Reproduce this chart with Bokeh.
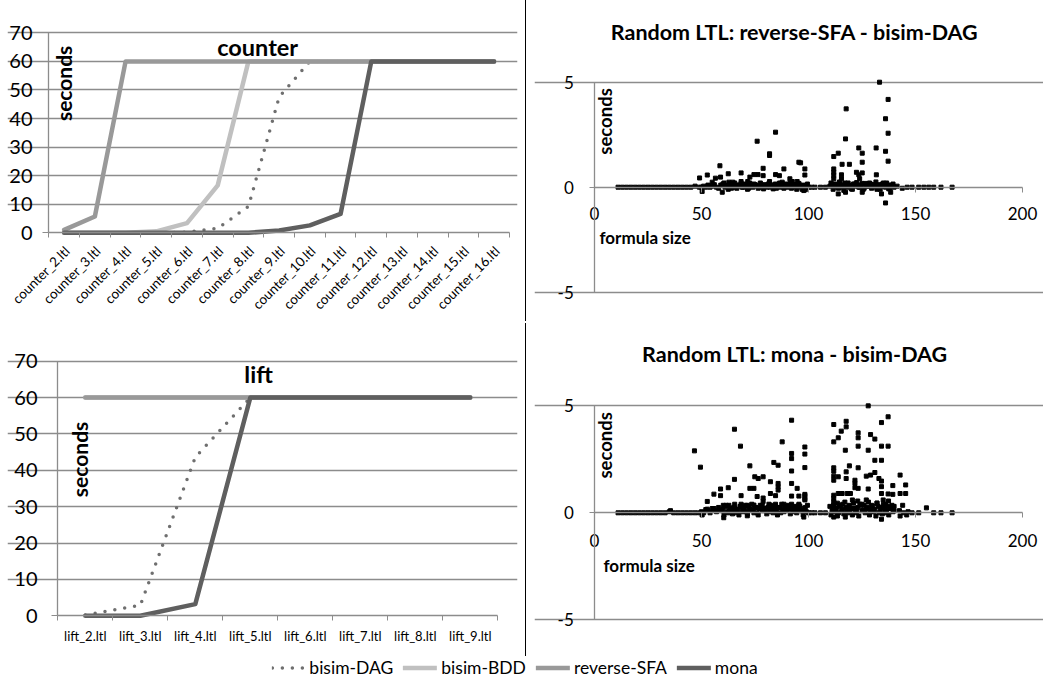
import math
from bokeh.plotting import figure
from bokeh.models import (FixedTicker, Label, Legend, LegendItem, Div, Range1d,
                          CustomLabelingPolicy)
from bokeh.layouts import column, row
from bokeh.embed import file_html
from bokeh.resources import INLINE
from bokeh.core.properties import value

FONT = "Lato"
GRID = "#8c8c8c"
C_DAG = "#6f6f6f"
C_BDD = "#c0c0c0"
C_RSFA = "#999999"
C_MONA = "#5f5f5f"

# ---------------- line chart data ----------------
counter_labels = ["counter_2.ltl", "counter_3.ltl", "counter_4.ltl", "counter_5.ltl", "counter_6.ltl",
                  "counter_7.ltl", "counter_8.ltl", "counter_9.ltl", "counter_10.ltl", "counter_11.ltl",
                  "counter_12.ltl", "counter_13.ltl", "counter_14.ltl", "counter_15.ltl", "counter_16.ltl"]
counter_dag = [0, 0, 0, 0, 0.2, 1.6, 9.2, 47.5, 60, 60, 60, 60, 60, 60, 60]
counter_bdd = [0, 0, 0, 0.5, 3.4, 16.6, 60, 60, 60, 60, 60, 60, 60, 60, 60]
counter_rsfa = [1, 5.7, 60, 60, 60, 60, 60, 60, 60, 60, 60, 60, 60, 60, 60]
counter_mona = [0, 0, 0, 0, 0, 0, 0, 0.8, 2.6, 6.6, 60, 60, 60, 60, 60]

lift_labels = ["lift_2.ltl", "lift_3.ltl", "lift_4.ltl", "lift_5.ltl",
               "lift_6.ltl", "lift_7.ltl", "lift_8.ltl", "lift_9.ltl"]
lift_dag = [0.2, 2.9, 43.6, 60, 60, 60, 60, 60]
lift_bdd = [60, 60, 60, 60, 60, 60, 60, 60]
lift_rsfa = [60, 60, 60, 60, 60, 60, 60, 60]
lift_mona = [0, 0, 3.2, 60, 60, 60, 60, 60]

y_ticks_line = [0, 10, 20, 30, 40, 50, 60, 70]
series_names = ["bisim-DAG", "bisim-BDD", "reverse-SFA", "mona"]

# ---------------- scatter data: reverse-SFA - bisim-DAG ----------------
a_low_x = [11, 13, 15, 17, 19, 21, 23, 25, 27, 29, 31, 33, 35, 37, 39, 41, 43, 45, 47, 49]
a_low_y = [0, 0, 0, 0, 0, 0, 0, 0, 0, 0, 0, 0, 0, 0, 0, 0, 0, 0, 0.05, 0]
a_band1_x = [50, 51, 52, 53, 54, 55, 56, 57, 58, 59, 60, 61, 62, 63, 64, 65, 66, 67, 68, 69,
             70, 71, 72, 73, 74, 75, 76, 77, 78, 79, 80, 81, 82, 83, 84, 85, 86, 87, 88, 89,
             90, 91, 92, 93, 94, 95, 96, 97, 98, 99, 100]
a_band1_y = [0, 0.05, 0, 0.1, 0, 0.05, 0.12, 0, -0.05, 0.1,
             0.15, 0, 0.05, 0.1, -0.05, 0.12, 0, 0.1, 0.05, 0,
             0.15, 0.05, -0.05, 0.1, 0, 0.12, 0.05, 0, 0.1, -0.08,
             0.05, 0.12, 0, 0.1, 0.05, -0.05, 0.1, 0, 0.15, 0.05,
             0, 0.1, -0.05, 0.05, 0.12, 0, 0.1, -0.1, 0.05, 0, 0]
a_band2_x = [60.5, 61.5, 62.5, 63.5, 64.5, 65.5, 66.5, 67.5, 68.5, 69.5,
             70.5, 71.5, 72.5, 73.5, 74.5, 75.5, 76.5, 77.5, 78.5, 79.5,
             80.5, 81.5, 82.5, 83.5, 84.5, 85.5, 86.5, 87.5, 88.5, 89.5,
             90.5, 91.5, 92.5, 93.5, 94.5, 95.5, 96.5, 97.5, 98.5, 99.5]
a_band2_y = [0.2, 0.1, -0.1, 0.15, 0.05, 0.2, -0.05, 0.1, 0.18, 0,
             0.12, -0.1, 0.2, 0.05, 0.15, 0.1, -0.05, 0.2, 0.08, 0.12,
             0, 0.18, 0.1, -0.08, 0.15, 0.05, 0.2, 0.1, -0.05, 0.15,
             0.08, 0.2, 0, 0.12, -0.1, 0.18, 0.05, 0.1, -0.12, 0.15]
a_gap_x = [101.5, 103, 105.6, 107.9]
a_gap_y = [0, 0, 0, 0]
a_band3_x = [110, 111, 112, 113, 114, 115, 116, 117, 118, 119, 120, 121, 122, 123, 124, 125,
             126, 127, 128, 129, 130, 131, 132, 133, 134, 135, 136, 137, 138, 139, 140]
a_band3_y = [0.05, 0.15, 0, 0.1, -0.05, 0.12, 0.05, 0.2, 0, 0.1,
             -0.08, 0.15, 0.05, 0.1, 0, 0.18, -0.05, 0.1, 0.05, 0.15,
             0, 0.1, -0.1, 0.12, 0.05, 0.2, 0, 0.1, -0.05, 0.08, 0]
a_band4_x = [110.5, 111.5, 112.5, 113.5, 114.5, 115.5, 116.5, 117.5, 118.5, 119.5,
             120.5, 121.5, 122.5, 123.5, 124.5, 125.5, 126.5, 127.5, 128.5, 129.5,
             130.5, 131.5, 132.5, 133.5, 134.5, 135.5, 136.5, 137.5, 138.5, 139.5]
a_band4_y = [0.2, -0.1, 0.15, 0.05, 0.25, 0, -0.15, 0.1, 0.2, 0.05,
             -0.1, 0.15, 0.22, 0, 0.1, -0.12, 0.18, 0.05, 0.2, -0.05,
             0.12, 0.25, 0, -0.1, 0.15, 0.05, 0.2, -0.08, 0.1, 0.15]
a_tail_x = [141.4, 143.8, 146.1, 148.4, 151.5, 153.9, 156.2, 158.5, 161.9, 167.1]
a_tail_y = [0.05, -0.05, 0, 0, 0, 0, 0, 0, 0, 0]
a_out_x = [76.0, 84.6, 81.8, 81.8, 58.6, 95.5, 98.3, 98.3, 88.5, 78.8,
           68.5, 62.5, 52.7, 49.1, 74.5, 76.4, 78.8, 84.6, 86.4, 56.5,
           58.9, 72.6, 71.6, 64.6, 68.5, 62.8, 81.8, 91.3, 92.4, 94.7,
           87.7, 55.0, 59.7, 50.3, 97.8, 96.3,
           133.2, 137.2, 117.6, 136.0, 137.2, 117.3, 123.5, 131.6, 125.1, 136.0,
           113.9, 111.8, 137.2, 115.7, 119.1, 125.1, 111.8, 111.8, 111.8, 111.8,
           115.4, 115.4, 122.4, 123.5, 125.1, 123.9, 131.7, 113.9, 134.1, 136.0,
           125.1, 138.4, 117.3]
a_out_y = [2.19, 2.62, 1.59, 1.51, 1.02, 1.19, 0.87, 0.58, 0.87, 0.90,
           0.68, 0.64, 0.58, 0.44, 0.6, 0.6, 0.55, 0.6, 0.55, 0.43,
           0.48, 0.48, 0.27, 0.24, 0.27, 0.24, 0.27, 0.4, 0.27, 0.27,
           0.24, 0.24, -0.24, -0.2, -0.16, 1.16,
           5.0, 4.18, 3.73, 3.26, 2.57, 2.30, 1.87, 1.87, 1.62, 1.71,
           1.62, 1.46, 1.24, 1.09, 1.09, 1.19, 0.87, 0.71, 0.56, 0.40,
           0.59, 0.40, 0.71, 0.59, 0.68, 0.40, 0.59, -0.32, -0.32, -0.75,
           -0.24, -0.24, -0.24]

# ---------------- scatter data: mona - bisim-DAG ----------------
b_low_x = [11, 13, 15, 17, 19, 21, 23, 25, 27, 29, 31, 33, 35, 37, 39, 41, 43, 45, 47, 49]
b_low_y = [0, 0, 0, 0, 0, 0, 0, 0, 0, 0, 0, 0, 0.05, 0, 0, 0, 0, 0, 0, 0]
b_band1_x = [50, 51, 52, 53, 54, 55, 56, 57, 58, 59, 60, 61, 62, 63, 64, 65, 66, 67, 68, 69,
             70, 71, 72, 73, 74, 75, 76, 77, 78, 79, 80, 81, 82, 83, 84, 85, 86, 87, 88, 89,
             90, 91, 92, 93, 94, 95, 96, 97, 98, 99, 100]
b_band1_y = [0.05, 0, 0.15, 0.1, 0, 0.2, 0.1, 0.05, 0.25, 0.1,
             0.15, 0.3, 0.05, 0.2, 0.1, 0.25, 0, 0.15, 0.3, 0.1,
             0.2, 0.05, 0.3, 0.15, 0.1, 0.25, 0, 0.2, 0.3, 0.1,
             0.15, 0.25, 0.05, 0.3, 0.2, 0.1, 0.25, 0, 0.15, 0.3,
             0.1, 0.2, 0.3, 0.05, 0.25, 0.15, 0.3, 0.1, 0.2, 0.05, 0]
b_band2_x = [60.5, 61.5, 62.5, 63.5, 64.5, 65.5, 66.5, 67.5, 68.5, 69.5,
             70.5, 71.5, 72.5, 73.5, 74.5, 75.5, 76.5, 77.5, 78.5, 79.5,
             80.5, 81.5, 82.5, 83.5, 84.5, 85.5, 86.5, 87.5, 88.5, 89.5,
             90.5, 91.5, 92.5, 93.5, 94.5, 95.5, 96.5, 97.5, 98.5, 99.5]
b_band2_y = [-0.1, 0.35, 0, 0.2, -0.05, 0.4, 0.1, -0.1, 0.3, 0.05,
             0.35, -0.05, 0.15, 0.4, 0, 0.25, -0.1, 0.35, 0.1, 0.2,
             -0.05, 0.4, 0.15, 0, 0.3, -0.1, 0.25, 0.4, 0.05, 0.2,
             0.35, -0.05, 0.15, 0.3, 0, 0.4, 0.1, -0.1, 0.25, 0.35]
b_gap_x = [101.5, 103, 105.6, 107.9]
b_gap_y = [0, 0, 0, 0]
b_band3_x = [110, 111, 112, 113, 114, 115, 116, 117, 118, 119, 120, 121, 122, 123, 124, 125,
             126, 127, 128, 129, 130, 131, 132, 133, 134, 135, 136, 137, 138, 139, 140]
b_band3_y = [0.3, 0.1, 0.45, 0.2, 0, 0.35, 0.15, 0.5, 0.05, 0.3,
             0.2, 0.45, 0, 0.25, 0.4, 0.1, 0.35, 0.2, 0.5, 0.05,
             0.3, 0.15, 0.45, 0, 0.25, 0.4, 0.1, 0.3, 0.2, 0.35, 0.1]
b_band4_x = [110.5, 111.5, 112.5, 113.5, 114.5, 115.5, 116.5, 117.5, 118.5, 119.5,
             120.5, 121.5, 122.5, 123.5, 124.5, 125.5, 126.5, 127.5, 128.5, 129.5,
             130.5, 131.5, 132.5, 133.5, 134.5, 135.5, 136.5, 137.5, 138.5, 139.5]
b_band4_y = [-0.1, 0.2, 0.05, -0.15, 0.3, 0.1, -0.05, 0.25, 0, 0.15,
             -0.1, 0.2, 0.05, -0.15, 0.35, 0.1, 0, 0.25, -0.1, 0.15,
             0.05, -0.15, 0.3, 0.1, -0.05, 0.2, 0, -0.1, 0.25, 0.05]
b_tail_x = [142.5, 144.5, 146.5, 148.4, 151.5, 158.5, 161.9, 167.1]
b_tail_y = [0.1, 0, 0.05, 0, 0, 0, 0, 0]
b_out_x = [46.7, 49.5, 65.4, 68.2, 92.1, 87.7, 92.1, 92.1, 98.3, 98.3,
           92.1, 83.8, 85.8, 72.6, 74.9, 76.5, 78.8, 65.4, 82.2, 85.8,
           85.8, 85.8, 62.5, 58.9, 58.9, 55.8, 72.6, 74.5, 68.5, 76.0,
           78.8, 78.8, 82.2, 84.6, 94.7, 92.1, 92.1, 95.5, 98.3, 98.3,
           52.7, 60.2, 62.8, 68.5, 71.4, 74.5, 78.4, 82.2, 84.6, 88.5,
           92.1, 95.5, 55.8, 52.7, 65.7, 35.5, 60.4, 71.4, 97.8, 50.3, 98.3,
           127.9, 137.2, 134.1, 117.6, 117.6, 111.8, 115.3, 113.9, 111.8, 123.2,
           123.2, 129.0, 131.0, 123.2, 117.2, 127.9, 134.1, 137.2, 131.0, 134.1,
           111.8, 111.8, 111.8, 111.8, 113.9, 117.6, 119.1, 123.2, 117.6, 121.7,
           121.7, 121.7, 127.0, 129.0, 131.0, 132.9, 134.1, 134.1, 142.8, 139.4,
           145.4, 123.2, 127.9, 134.1, 137.2, 139.4, 142.8, 145.4, 111.8, 111.8,
           111.8, 111.8, 113.9, 115.7, 118.1, 119.6, 155.1, 120.5, 123.0, 127.0,
           134.9, 137.4, 113.5, 116.0, 119.0, 125.0, 129.5, 132.0, 136.0, 140.0,
           144.0, 134.1, 111.8, 117.2, 142.8, 145.9, 98.3, 98.3, 96.3]
b_out_y = [2.89, 2.13, 3.90, 3.11, 4.32, 3.31, 2.77, 2.53, 3.07, 2.11,
           1.95, 2.35, 2.22, 2.19, 1.68, 1.6, 1.68, 1.56, 1.45, 1.37,
           1.22, 1.06, 1.17, 1.11, 0.8, 0.87, 1.14, 1.14, 0.8, 0.76,
           0.69, 0.53, 0.9, 0.8, 1.14, 1.37, 0.78, 0.78, 0.86, 0.66,
           0.53, 0.35, 0.35, 0.4, 0.35, 0.36, 0.35, 0.36, 0.4, 0.4,
           0.4, 0.36, 0.2, 0.17, 0.2, 0.1, -0.23, -0.14, -0.2, -0.1, 2.74,
           4.99, 4.48, 4.21, 4.27, 4.01, 4.12, 3.81, 3.50, 3.31, 3.73,
           3.50, 3.65, 3.44, 3.11, 2.92, 2.92, 3.11, 3.11, 2.45, 2.45,
           2.10, 1.94, 1.71, 1.52, 1.68, 1.91, 2.19, 2.10, 1.60, 1.52,
           1.37, 1.17, 1.71, 1.76, 1.88, 1.60, 1.48, 1.22, 1.76, 1.27,
           1.30, 1.14, 1.11, 0.9, 0.88, 0.86, 0.9, 0.9, 0.82, 0.67,
           0.51, 0.36, 0.9, 0.9, 0.9, 0.9, 0.23, 0.6, 0.55, 0.6,
           0.6, 0.55, 0.45, 0.4, 0.35, 0.4, 0.35, 0.45, 0.4, 0.3,
           0.35, -0.30, -0.2, -0.2, -0.15, -0.1, 0.8, 0.6, 0.1]

x_ticks_sc = [0, 50, 100, 150, 200]
y_ticks_sc = [-5, 0, 5]

# layout borders (pixels); frames share borders across rows/columns
L_LEFT, R_LEFT = 7, 8
L_RIGHT, R_RIGHT = 8, 0
T_ROW, B_ROW = 6, 8
W_LEFT, W_RIGHT = 525, 517
H_TOP, H_BOT = 323, 333


def no_labels():
    return CustomLabelingPolicy(code="return []")


def style_common(p):
    p.outline_line_color = None
    p.background_fill_color = "white"
    p.border_fill_color = "white"


def style_axis(ax, tick_out, major=True):
    ax.axis_line_color = GRID
    ax.axis_line_width = 1.3
    ax.major_tick_line_color = GRID
    ax.major_tick_out = tick_out if major else 0
    ax.major_tick_in = 0
    ax.minor_tick_in = 0
    ax.minor_tick_out = 0 if major else tick_out
    ax.minor_tick_line_color = GRID
    ax.major_label_standoff = 0
    ax.major_label_text_font_size = "1px"
    ax.major_label_policy = no_labels()


def line_chart(labels, dag, bdd, rsfa, mona, h, xr, yr, title, title_pos, sec_pos,
               rotate, lab_y, lab_dx, ylab_x):
    n = len(labels)
    xs = list(range(n))
    p = figure(width=W_LEFT, height=h, output_backend="svg", toolbar_location=None,
               x_range=Range1d(*xr), y_range=Range1d(*yr),
               min_border_left=L_LEFT, min_border_right=R_LEFT,
               min_border_top=T_ROW, min_border_bottom=B_ROW)
    style_common(p)
    p.xgrid.visible = False
    p.ygrid.ticker = FixedTicker(ticks=y_ticks_line[1:])
    p.ygrid.grid_line_color = GRID
    p.ygrid.grid_line_width = 1.3
    p.ygrid.bounds = (-0.5, n - 0.5)

    ya = p.yaxis[0]
    ya.ticker = FixedTicker(ticks=y_ticks_line)
    ya.bounds = (0, 70)
    ya.fixed_location = -0.5
    style_axis(ya, 6)

    xa = p.xaxis[0]
    xa.fixed_location = 0
    xa.bounds = (-0.5, n - 0.5)
    xa.ticker = FixedTicker(ticks=xs, minor_ticks=[i - 0.5 for i in range(n + 1)])
    style_axis(xa, 5, major=False)

    p.line(xs, dag, line_color=C_DAG, line_width=3.5, line_dash="0 10", line_cap="round")
    p.line(xs, bdd, line_color=C_BDD, line_width=4.5, line_cap="round", line_join="round")
    p.line(xs, rsfa, line_color=C_RSFA, line_width=4.5, line_cap="round", line_join="round")
    p.line(xs, mona, line_color=C_MONA, line_width=4.5, line_cap="round", line_join="round")

    # y tick labels
    p.text(x=[ylab_x for _ in y_ticks_line], y=y_ticks_line, text=[str(t) for t in y_ticks_line],
           text_align="right", text_baseline="middle", text_font=value(FONT),
           text_font_size="20px", text_color="#000000")
    # category labels
    if rotate:
        p.text(x=[i + lab_dx for i in xs], y=[lab_y for _ in xs], text=labels, angle=math.pi / 4,
               text_align="right", text_baseline="middle", text_font=value(FONT),
               text_font_size="13.5px", text_color="#000000")
    else:
        p.text(x=xs, y=[lab_y for _ in xs], text=labels,
               text_align="center", text_baseline="middle", text_font=value(FONT),
               text_font_size="13px", text_color="#000000")

    p.add_layout(Label(x=title_pos[0], y=title_pos[1], text=title, text_font=FONT,
                       text_font_size="23.5px", text_font_style="bold", text_align="center",
                       text_baseline="middle", text_color="#000000"))
    p.add_layout(Label(x=sec_pos[0], y=sec_pos[1], text="seconds", text_font=FONT,
                       text_font_size="21px", text_font_style="bold", text_align="center",
                       text_baseline="middle", angle=math.pi / 2, text_color="#000000"))
    return p


def scatter_chart(xs_parts, ys_parts, title, h, yr, lab_y, title_y, sec_y, fs_pos):
    p = figure(width=W_RIGHT, height=h, output_backend="svg", toolbar_location=None,
               x_range=Range1d(-28.04, 209.81), y_range=Range1d(*yr),
               min_border_left=L_RIGHT, min_border_right=R_RIGHT,
               min_border_top=T_ROW, min_border_bottom=B_ROW)
    style_common(p)
    p.xgrid.visible = False
    p.ygrid.ticker = FixedTicker(ticks=[-5, 5])
    p.ygrid.grid_line_color = GRID
    p.ygrid.grid_line_width = 1.3
    p.ygrid.bounds = (0, 200)

    xa = p.xaxis[0]
    xa.fixed_location = 0
    xa.bounds = (0, 200)
    xa.ticker = FixedTicker(ticks=x_ticks_sc)
    style_axis(xa, 5)

    ya = p.yaxis[0]
    ya.fixed_location = 0
    ya.bounds = (-5, 5)
    ya.ticker = FixedTicker(ticks=y_ticks_sc)
    style_axis(ya, 5)

    for xs, ys in zip(xs_parts, ys_parts):
        p.scatter(xs, ys, marker="square", size=4, color="#000000")

    p.text(x=x_ticks_sc, y=[lab_y for _ in x_ticks_sc], text=[str(t) for t in x_ticks_sc],
           text_align="center", text_baseline="middle", text_font=value(FONT),
           text_font_size="17px", text_color="#000000")
    p.text(x=[-9.7 for _ in y_ticks_sc], y=y_ticks_sc, text=[str(t) for t in y_ticks_sc],
           text_align="right", text_baseline="middle", text_font=value(FONT),
           text_font_size="17px", text_color="#000000")

    p.add_layout(Label(x=93.5, y=title_y, text=title, text_font=FONT,
                       text_font_size="21.5px", text_font_style="bold", text_align="center",
                       text_baseline="middle", text_color="#000000"))
    p.add_layout(Label(x=5.1, y=sec_y, text="seconds", text_font=FONT,
                       text_font_size="18.5px", text_font_style="bold", text_align="center",
                       text_baseline="middle", angle=math.pi / 2, text_color="#000000"))
    p.add_layout(Label(x=fs_pos[0], y=fs_pos[1], text="formula size", text_font=FONT,
                       text_font_size="17px", text_font_style="bold", text_align="left",
                       text_baseline="middle", text_color="#000000"))
    return p


p_counter = line_chart(counter_labels, counter_dag, counter_bdd, counter_rsfa, counter_mona,
                       H_TOP, (-1.8447, 14.7605), (-28.95, 79.21),
                       "counter", (6.3, 64.9), (-0.02, 52.3), True, -5.6, 0.1, -1.03)
p_lift = line_chart(lift_labels, lift_dag, lift_bdd, lift_rsfa, lift_mona,
                    H_BOT, (-1.4145, 7.8582), (-8.99, 78.72),
                    "lift", (3.15, 66.6), (-0.105, 43), False, -5.42, 0, -0.869)

p_sc1 = scatter_chart([a_low_x, a_band1_x, a_band2_x, a_gap_x, a_band3_x, a_band4_x, a_tail_x, a_out_x],
                      [a_low_y, a_band1_y, a_band2_y, a_gap_y, a_band3_y, a_band4_y, a_tail_y, a_out_y],
                      "Random LTL: reverse-SFA - bisim-DAG", H_TOP, (-6.11, 8.605),
                      -1.25, 7.37, 3.13, (2.3, -2.4))
p_sc2 = scatter_chart([b_low_x, b_band1_x, b_band2_x, b_gap_x, b_band3_x, b_band4_x, b_tail_x, b_out_x],
                      [b_low_y, b_band1_y, b_band2_y, b_gap_y, b_band3_y, b_band4_y, b_tail_y, b_out_y],
                      "Random LTL: mona - bisim-DAG", H_BOT, (-6.332, 8.553),
                      -1.29, 7.43, 3.15, (4.2, -2.46))

# legend strip
pl = figure(width=1029, height=22, output_backend="svg", toolbar_location=None,
            x_range=Range1d(100, 101), y_range=Range1d(100, 101),
            x_axis_location=None, y_axis_location=None,
            min_border_left=0, min_border_right=0, min_border_top=0, min_border_bottom=0)
style_common(pl)
pl.grid.visible = False
lx = list(range(len(lift_labels)))
l1 = pl.line(lx, lift_dag, line_color=C_DAG, line_width=3.5, line_dash="0 10", line_cap="round")
l2 = pl.line(lx, lift_bdd, line_color=C_BDD, line_width=4.5, line_cap="round")
l3 = pl.line(lx, lift_rsfa, line_color=C_RSFA, line_width=4.5, line_cap="round")
l4 = pl.line(lx, lift_mona, line_color=C_MONA, line_width=4.5, line_cap="round")
legend = Legend(items=[LegendItem(label=series_names[0], renderers=[l1]),
                       LegendItem(label=series_names[1], renderers=[l2]),
                       LegendItem(label=series_names[2], renderers=[l3]),
                       LegendItem(label=series_names[3], renderers=[l4])],
                location="center", orientation="horizontal",
                glyph_width=34, glyph_height=16, label_standoff=4, spacing=10,
                padding=0, margin=0, border_line_color=None, background_fill_alpha=0,
                label_text_font=FONT, label_text_font_size="17.5px", label_text_color="#000000")
pl.add_layout(legend, "center")

sep1 = Div(width=1, height=H_TOP - 2, margin=(0, 0, 0, 0), styles={"background-color": "#000000"})
sep2 = Div(width=1, height=H_BOT, margin=(0, 0, 0, 0), styles={"background-color": "#000000"})

layout = column(row(p_counter, sep1, p_sc1), row(p_lift, sep2, p_sc2), pl)

open("out.html", "w").write(file_html(layout, INLINE))
